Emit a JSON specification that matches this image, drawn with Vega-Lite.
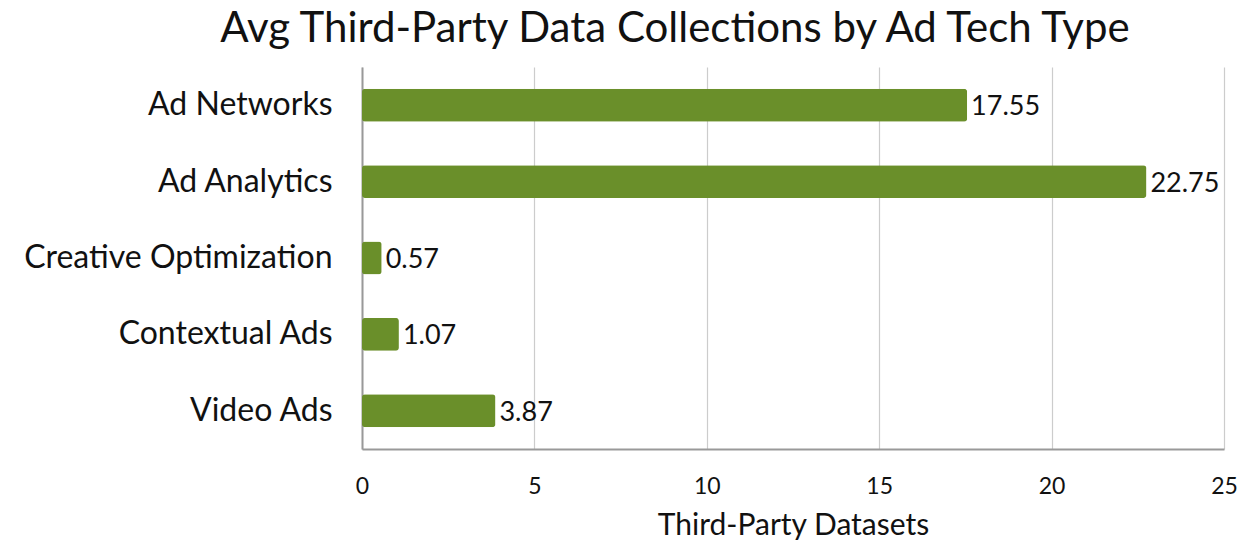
{
  "$schema": "https://vega.github.io/schema/vega-lite/v6.json",
  "width": 862,
  "height": 382,
  "autosize": {"type": "none"},
  "padding": {"left": 362, "top": 67, "right": 26, "bottom": 99},
  "background": "white",
  "title": {
    "text": "Avg Third-Party Data Collections by Ad Tech Type",
    "font": "Lato",
    "fontSize": 42,
    "fontWeight": "normal",
    "color": "#111111",
    "anchor": "middle",
    "dx": -118,
    "offset": 16
  },
  "data": {
    "values": [
      {"type": "Ad Networks", "value": 17.55, "label": "17.55"},
      {"type": "Ad Analytics", "value": 22.75, "label": "22.75"},
      {"type": "Creative Optimization", "value": 0.57, "label": "0.57"},
      {"type": "Contextual Ads", "value": 1.07, "label": "1.07"},
      {"type": "Video Ads", "value": 3.87, "label": "3.87"}
    ]
  },
  "encoding": {
    "y": {
      "field": "type",
      "type": "nominal",
      "sort": null,
      "scale": {"paddingInner": 0.57, "paddingOuter": 0.285},
      "axis": {
        "title": null,
        "labelFont": "Lato",
        "labelFontSize": 32,
        "labelColor": "#111111",
        "labelPadding": 30,
        "ticks": false,
        "domainColor": "#999999",
        "domainWidth": 2,
        "labelLimit": 400
      }
    },
    "x": {
      "field": "value",
      "type": "quantitative",
      "scale": {"domain": [0, 25]},
      "axis": {
        "title": "Third-Party Datasets",
        "titleFont": "Lato",
        "titleFontSize": 30,
        "titleFontWeight": "normal",
        "titleColor": "#111111",
        "titlePadding": 12,
        "values": [0, 5, 10, 15, 20, 25],
        "labelFont": "Lato",
        "labelFontSize": 23,
        "labelColor": "#111111",
        "labelPadding": 26,
        "labelFlush": false,
        "ticks": false,
        "grid": true,
        "gridColor": "#cccccc",
        "gridWidth": 1.2,
        "domainColor": "#999999",
        "domainWidth": 2
      }
    }
  },
  "layer": [
    {
      "mark": {"type": "bar", "color": "#6a8f2a", "cornerRadius": 3}
    },
    {
      "mark": {"type": "text", "align": "left", "baseline": "middle", "dx": 4, "dy": 2, "font": "Lato", "fontSize": 27, "color": "#111111"},
      "encoding": {"text": {"field": "label"}}
    }
  ],
  "config": {"view": {"stroke": null}}
}
